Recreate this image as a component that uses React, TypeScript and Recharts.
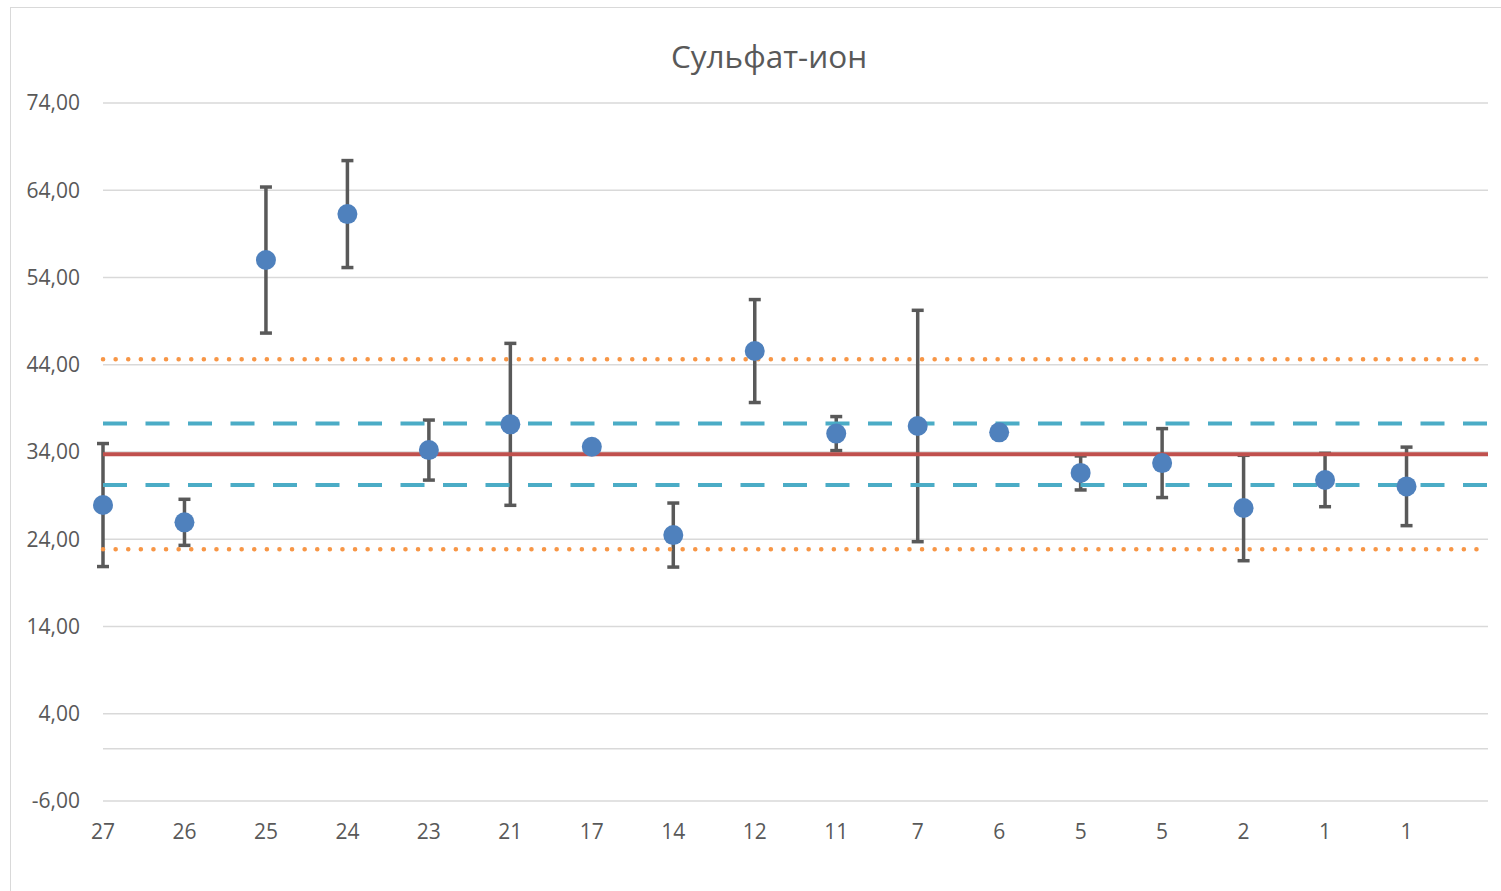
import {
  ComposedChart,
  Line,
  XAxis,
  YAxis,
  CartesianGrid,
  ReferenceLine,
  ErrorBar,
} from "recharts";

// Номера проб по оси X
const categories = [
  "27", "26", "25", "24", "23", "21", "17", "14", "12",
  "11", "7", "6", "5", "5", "2", "1", "1",
];

// Результаты измерений, мг/дм3
const values = [
  27.92, 25.94, 56.0, 61.27, 34.22, 37.17, 34.6, 24.48, 45.57,
  36.11, 36.98, 36.25, 31.6, 32.73, 27.58, 30.79, 30.06,
];

// Погрешность (±)
const errors = [
  7.05, 2.64, 8.37, 6.13, 3.44, 9.28, 0, 3.67, 5.9,
  1.95, 13.26, 0, 1.95, 3.95, 6.04, 3.06, 4.5,
];

// Среднее и границы
const mean = 33.74;
const innerLimits = [30.21, 37.28];
const outerLimits = [22.84, 44.62];

const yTicks = [-6, 4, 14, 24, 34, 44, 54, 64, 74];

const TEXT = "#595959";
const GRID = "#D9D9D9";

const data = categories.map((c, i) => ({
  idx: i,
  value: values[i],
  error: errors[i],
}));

const formatY = (v: number) => v.toFixed(2).replace(".", ",");

export default function App() {
  return (
    <div
      style={{
        position: "relative",
        width: 1501,
        height: 891,
        overflow: "hidden",
        background: "#fff",
        fontFamily: "'Open Sans', sans-serif",
      }}
    >
      <style>{"body{margin:0}"}</style>
      {/* рамка области диаграммы */}
      <div
        style={{
          position: "absolute",
          left: 10,
          top: 7,
          width: 1600,
          height: 1000,
          border: `1px solid ${GRID}`,
        }}
      />
      <div
        style={{
          position: "absolute",
          left: 0,
          top: 40,
          width: 1538,
          textAlign: "center",
          fontSize: 31.5,
          lineHeight: 1,
          color: TEXT,
        }}
      >
        Сульфат-ион
      </div>
      <div style={{ position: "absolute", left: 0, top: 0 }}>
        <ComposedChart
          width={1501}
          height={891}
          data={data}
          margin={{ top: 103, right: 13, bottom: 60, left: 10 }}
        >
          <CartesianGrid vertical={false} stroke={GRID} strokeWidth={1.5} />
          <XAxis
            type="number"
            dataKey="idx"
            domain={[0, 17]}
            ticks={categories.map((_, i) => i)}
            tickFormatter={(i: number) => categories[i] ?? ""}
            interval={0}
            axisLine={false}
            tickLine={false}
            tickMargin={17}
            height={30}
            tick={{ fill: TEXT, fontSize: 21 }}
          />
          <YAxis
            type="number"
            domain={[-6, 74]}
            ticks={yTicks}
            tickFormatter={formatY}
            axisLine={false}
            tickLine={false}
            tickMargin={17}
            width={93}
            tick={{ fill: TEXT, fontSize: 21 }}
          />
          {/* горизонтальная ось на нуле */}
          <ReferenceLine y={0} stroke={GRID} strokeWidth={1.5} />

          {/* планки погрешностей */}
          <Line
            dataKey="value"
            stroke="none"
            dot={false}
            activeDot={false}
            isAnimationActive={false}
          >
            <ErrorBar
              dataKey="error"
              direction="y"
              width={6}
              strokeWidth={3.5}
              stroke="#595959"
            />
          </Line>

          {/* среднее и границы */}
          <ReferenceLine
            y={outerLimits[0]}
            stroke="#F79646"
            strokeWidth={4.5}
            strokeDasharray="0.1 12.5"
            strokeLinecap="round"
          />
          <ReferenceLine
            y={outerLimits[1]}
            stroke="#F79646"
            strokeWidth={4.5}
            strokeDasharray="0.1 12.5"
            strokeLinecap="round"
          />
          <ReferenceLine
            y={innerLimits[0]}
            stroke="#4BACC6"
            strokeWidth={4}
            strokeDasharray="24 18.5"
          />
          <ReferenceLine
            y={innerLimits[1]}
            stroke="#4BACC6"
            strokeWidth={4}
            strokeDasharray="24 18.5"
          />
          <ReferenceLine y={mean} stroke="#C0504D" strokeWidth={4} />

          {/* точки измерений */}
          <Line
            dataKey="value"
            stroke="none"
            dot={{ r: 10, fill: "#4F81BD", stroke: "none" }}
            activeDot={false}
            isAnimationActive={false}
          />
        </ComposedChart>
      </div>
    </div>
  );
}
